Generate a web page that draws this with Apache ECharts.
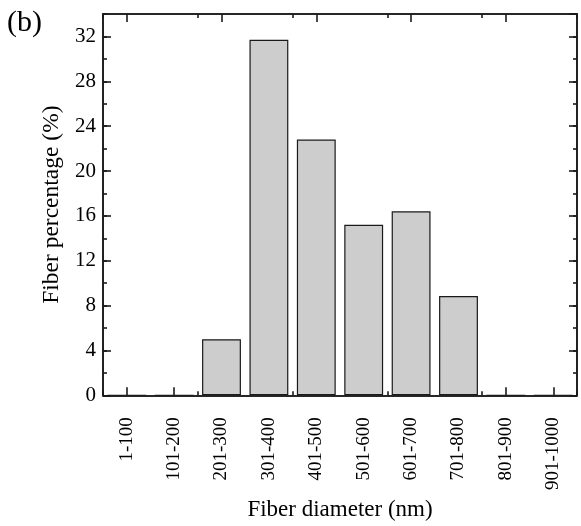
<!DOCTYPE html>
<html>
<head>
<meta charset="utf-8">
<script src="https://cdn.jsdelivr.net/npm/echarts@6/dist/echarts.min.js"></script>
<style>
  html, body { margin: 0; padding: 0; background: #fff; }
  #chart { width: 581px; height: 526px; }
</style>
</head>
<body>
<div id="chart"></div>
<script>
// Fiber diameter distribution (histogram of percentages per 100 nm bin)
const categories = ['1-100', '101-200', '201-300', '301-400', '401-500',
                    '501-600', '601-700', '701-800', '801-900', '901-1000'];
const percentages = [0, 0, 5.0, 31.7, 22.8, 15.2, 16.4, 8.85, 0, 0];
const yMin = 0;
const yMax = 34;
const yMajorStep = 4;
const yMinorStep = 2;

const FONT = "'Liberation Serif', 'Times New Roman', serif";
const INK = '#1a1a1a';

const chart = echarts.init(document.getElementById('chart'), null, { renderer: 'canvas' });

const line = { show: true, onZero: false, lineStyle: { color: INK, width: 1.6 } };

// Category axis; "major" ticks sit on bin centres, minor ticks on bin edges
function catAxis(position, major, withLabels) {
  return {
    type: 'category',
    position: position,
    data: categories,
    boundaryGap: true,
    axisLine: line,
    axisTick: {
      show: true,
      inside: true,
      alignWithLabel: major,
      length: major ? 8 : 4,
      lineStyle: { color: INK, width: 1.6 }
    },
    axisLabel: withLabels ? {
      show: true,
      rotate: 90,
      interval: 0,
      margin: 22,
      color: '#000',
      fontFamily: FONT,
      fontSize: 19
    } : { show: false },
    splitLine: { show: false }
  };
}

// Value axis; a long-tick copy every 4 % and a short-tick copy every 2 %
function valAxis(position, step, major, withLabels) {
  return {
    type: 'value',
    position: position,
    min: yMin,
    max: yMax,
    interval: step,
    axisLine: line,
    axisTick: {
      show: true,
      inside: true,
      length: major ? 8 : 4,
      lineStyle: { color: INK, width: 1.6 }
    },
    axisLabel: withLabels ? {
      show: true,
      margin: 7,
      color: '#000',
      fontFamily: FONT,
      fontSize: 21,
      showMaxLabel: false,
      formatter: v => (v % yMajorStep === 0 ? String(v) : '')
    } : { show: false },
    splitLine: { show: false }
  };
}

const xAxes = [
  Object.assign(catAxis('bottom', true, true), {
    name: 'Fiber diameter (nm)',
    nameLocation: 'middle',
    nameGap: 101,
    nameTextStyle: { color: '#000', fontFamily: FONT, fontSize: 23 }
  }),
  catAxis('bottom', false, false),
  catAxis('top', true, false),
  catAxis('top', false, false)
];

const yAxes = [
  Object.assign(valAxis('left', yMajorStep, true, true), {
    name: 'Fiber percentage (%)',
    nameLocation: 'middle',
    nameGap: 37,
    nameTextStyle: { color: '#000', fontFamily: FONT, fontSize: 23.5 }
  }),
  valAxis('left', yMinorStep, false, false),
  valAxis('right', yMajorStep, true, false),
  valAxis('right', yMinorStep, false, false)
];

chart.setOption({
  animation: false,
  backgroundColor: '#fff',
  grid: { left: 103, right: 4, top: 14, bottom: 127, containLabel: false },
  xAxis: xAxes,
  yAxis: yAxes,
  graphic: [{
    type: 'text',
    left: 7,
    top: 8,
    style: { text: '(b)', fill: '#000', font: '30px ' + FONT }
  }],
  series: [{
    type: 'bar',
    xAxisIndex: 0,
    yAxisIndex: 0,
    data: percentages,
    barCategoryGap: '18%',
    itemStyle: { color: '#cdcdcd', borderColor: INK, borderWidth: 1.2 }
  }]
});
</script>
</body>
</html>
